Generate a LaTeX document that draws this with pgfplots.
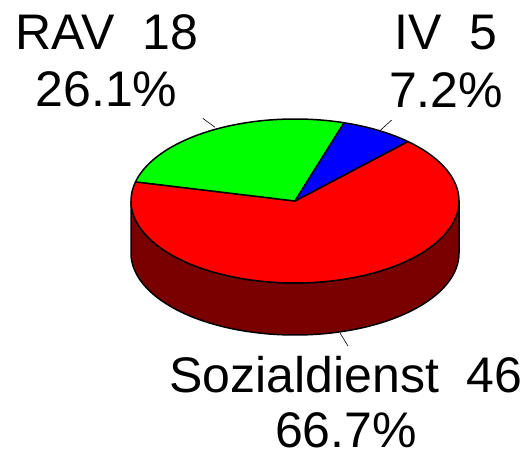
\documentclass[border=0pt]{standalone}
\usepackage{pgfplots}
\pgfplotsset{compat=1.18}
\usepackage{pgfplotstable}
\usepackage{fontspec}
\setmainfont{Liberation Sans}
\definecolor{soz}{RGB}{255,0,0}
\definecolor{sozside}{RGB}{122,0,0}
\definecolor{rav}{RGB}{0,255,0}
\definecolor{iv}{RGB}{0,0,255}

\pgfplotstableread{
label value
RAV 18
IV 5
Sozialdienst 46
}\piedata
\pgfplotstablegetelem{0}{value}\of\piedata \let\vRAV\pgfplotsretval
\pgfplotstablegetelem{1}{value}\of\piedata \let\vIV\pgfplotsretval
\pgfplotstablegetelem{2}{value}\of\piedata \let\vSoz\pgfplotsretval
\pgfmathsetmacro{\total}{\vRAV+\vIV+\vSoz}
\pgfmathsetmacro{\aIVs}{46.5}
\pgfmathsetmacro{\aIVe}{\aIVs+\vIV/\total*360}
\pgfmathsetmacro{\aRAVe}{\aIVe+\vRAV/\total*360}
\pgfmathsetmacro{\aSoze}{\aRAVe+\vSoz/\total*360}

\newcommand{\pieslice}[3]{%
\addplot[fill=#3, draw=black, line width=1.5pt, line join=round,
  domain=-1:101, samples=103, variable=\s]
  ({295 + (\s>-0.5)*(\s<100.5)*164*cos(#1+(#2-#1)*max(0,min(100,\s))/100)},
   {254 + (\s>-0.5)*(\s<100.5)*82*sin(#1+(#2-#1)*max(0,min(100,\s))/100)});}
\tikzset{lbl/.style={anchor=base, inner sep=0pt, font=\fontsize{50}{58}\selectfont}}
\newcommand{\gap}{\hspace{0.556em}}

\begin{document}%
\fontsize{50}{58}\selectfont%
\begin{tikzpicture}
\begin{axis}[at={(0pt,0pt)}, anchor=origin, x=1pt, y=1pt,
  xmin=0, xmax=532, ymin=0, ymax=455,
  hide axis, clip=false]
% side of the pie
\addplot[fill=sozside, draw=black, line width=1.5pt, line join=round,
  domain=0:362, samples=363, variable=\s]
  ({295+164*cos(ifthenelse(\s<180.5, 180+\s, ifthenelse(\s<361.5, 541-\s, 180)))},
   {254+82*sin(ifthenelse(\s<180.5, 180+\s, ifthenelse(\s<361.5, 541-\s, 180))) - 52*(\s>180.5)*(\s<361.5)});
\pieslice{\aRAVe}{\aSoze}{soz}
\pieslice{\aIVe}{\aRAVe}{rav}
\pieslice{\aIVs}{\aIVe}{iv}
% leader lines
\addplot[black, line width=0.6pt] coordinates {(202.7,336.7) (215,327.7)};
\addplot[black, line width=0.6pt] coordinates {(391.7,335) (380,324.3)};
\addplot[black, line width=0.6pt] coordinates {(340,122) (348,109)};
% labels
\node[lbl] at (axis cs:107,405.5) {RAV\gap 18};
\node[lbl] at (axis cs:106.5,348) {26.1\%};
\node[lbl] at (axis cs:446,405.5) {IV\gap 5};
\node[lbl] at (axis cs:446,347.5) {7.2\%};
\node[lbl] at (axis cs:346,62.3) {Sozialdienst\gap 46};
\node[lbl] at (axis cs:346,7.5) {66.7\%};
\end{axis}
\pgfresetboundingbox
\path[use as bounding box] (0,0) rectangle (532pt,455pt);
\end{tikzpicture}%
\end{document}
